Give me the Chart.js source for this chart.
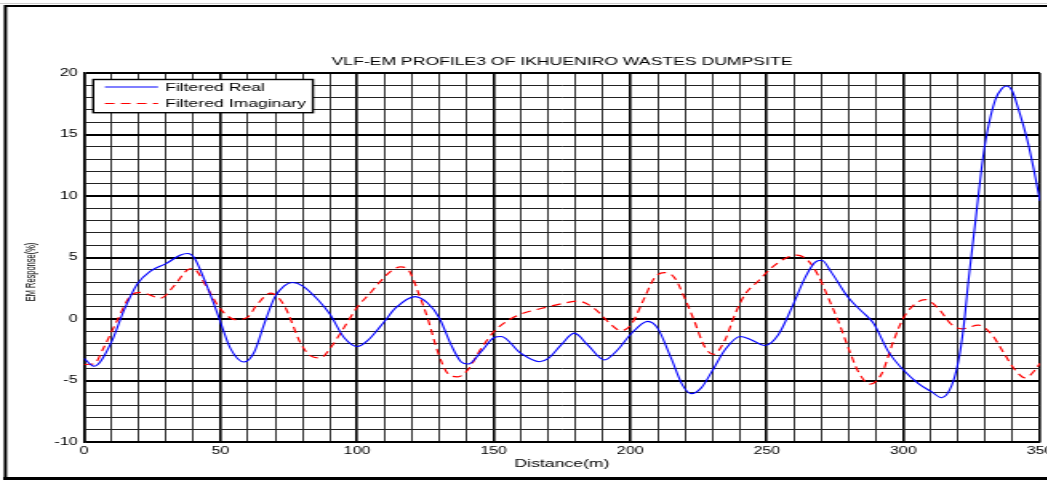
<!DOCTYPE html>
<html>
<head>
<meta charset="utf-8">
<title>VLF-EM Profile 3</title>
<script src="https://cdn.jsdelivr.net/npm/chart.js@4.4.1/dist/chart.umd.min.js"></script>
<style>
  html, body { margin: 0; padding: 0; background: #fff; overflow: hidden; }
  #wrap { position: relative; width: 1047px; height: 481px; overflow: hidden; background: #fff; }
  /* the figure is laid out narrow and widened horizontally, like the original export */
  #c { position: absolute; left: 0; top: 0; transform: scaleX(1.6); transform-origin: 0 0; }
</style>
</head>
<body>
<div id="wrap"><canvas id="c" width="680" height="481"></canvas></div>
<script>
// ---- profile data ----
const realDistance = [0, 3.7, 10, 14.6, 19.5, 24.4, 30, 35.4, 37.9, 40.3, 44, 47.6, 50, 53.7, 58.6, 62.3, 66, 69.8, 73.3, 76.3, 80, 85.5, 90, 95.2, 100.1, 103.8, 108.5, 110, 114.1, 121.2, 125.8, 130.1, 134.4, 138, 140.7, 145.4, 150.2, 152.7, 160, 166.7, 170, 174.7, 179.5, 184.4, 190.5, 195.4, 200, 206.4, 210, 215, 219.2, 222.3, 226, 229.8, 234.7, 240.2, 244.4, 249.3, 254.2, 259.1, 264, 267.6, 270.1, 273.7, 279.9, 284.7, 289, 294.5, 300, 305.5, 310.4, 314, 317.7, 320.1, 322, 323.8, 326.4, 328.7, 330.6, 333.6, 336.1, 337.7, 339.8, 342.2, 345.3, 347.7, 350];
const realResponse = [-3.2, -3.84, -1.9, 0.68, 2.84, 3.9, 4.5, 5.2, 5.32, 5.0, 3.24, 1.2, -0.27, -2.43, -3.5, -2.7, -0.4, 1.76, 2.7, 2.97, 2.7, 1.6, 0.4, -1.5, -2.24, -1.76, -0.6, -0.2, 0.9, 1.82, 1.3, 0.08, -2.1, -3.47, -3.66, -2.65, -1.5, -1.42, -2.8, -3.47, -3.2, -2.1, -1.15, -2.1, -3.33, -2.5, -1.28, -0.19, -0.74, -3.2, -5.4, -6.07, -5.6, -4.3, -2.5, -1.42, -1.7, -2.16, -1.28, 0.9, 3.36, 4.6, 4.78, 3.77, 1.72, 0.63, -0.33, -2.65, -4.15, -5.25, -5.93, -6.4, -5.4, -3.47, -0.74, 3.09, 8.0, 12.4, 15.1, 17.8, 18.75, 18.94, 18.56, 17.0, 14.6, 12.2, 9.6];

const imagDistance = [0, 3.7, 7.3, 12.2, 17.1, 20.8, 28, 33, 37.9, 39.5, 40.9, 45, 50, 55.6, 59.8, 63.5, 68.4, 73.3, 79.4, 83, 86.7, 90.4, 95.2, 100, 105, 108.7, 112.4, 116, 119.1, 122.2, 125.8, 129.5, 133.2, 136.8, 140.5, 145.4, 150.2, 155.1, 160, 167.3, 174.7, 180.8, 186.9, 193, 196.6, 200.3, 205.2, 208.9, 212.5, 216.2, 219.9, 223.5, 227.2, 230.4, 234.7, 238.3, 242, 246.9, 251.8, 256.7, 260.9, 265.2, 268.9, 272.5, 276.2, 279.9, 283.5, 287.8, 292.1, 296.3, 300, 304.3, 307.9, 312.8, 317.7, 321.4, 327.5, 332.4, 337.2, 340.9, 344.6, 348.2, 350];
const imagResponse = [-3.7, -3.65, -2.3, -0.1, 1.9, 2.16, 1.7, 2.7, 4.0, 4.1, 4.0, 2.57, 0.8, -0.05, 0.13, 1.2, 2.1, 1.1, -2.0, -3.0, -3.16, -2.3, -0.7, 0.95, 2.16, 3.1, 3.9, 4.23, 3.9, 2.27, 0.08, -2.65, -4.43, -4.7, -4.15, -2.4, -1.0, -0.14, 0.41, 0.85, 1.23, 1.45, 0.85, -0.46, -0.96, -0.46, 1.72, 3.36, 3.77, 3.36, 1.72, -0.19, -2.24, -2.87, -1.7, 0.36, 2.0, 3.09, 4.18, 4.92, 5.19, 4.73, 3.5, 1.72, -0.19, -2.38, -4.29, -5.3, -4.43, -1.83, 0.08, 1.23, 1.58, 0.85, -0.46, -0.8, -0.5, -1.28, -2.92, -4.15, -4.78, -4.15, -3.6];

const seriesNames = ['Filtered Real', 'Filtered Imaginary'];
const distanceLabels = [0, 50, 100, 150, 200, 250, 300, 350];
const responseLabels = [-10, -5, 0, 5, 10, 15, 20];
const chartTitle = 'VLF-EM PROFILE3 OF IKHUENIRO WASTES DUMPSITE';
const distanceTitle = 'Distance(m)';
const responseTitle = 'EM Response(%)';

const FONT = "'Liberation Sans', Arial, Helvetica, sans-serif";

function toPoints(xs, ys) { return xs.map((x, i) => ({ x: x, y: ys[i] })); }

// white page, outer figure frame
const figureFrame = {
  id: 'figureFrame',
  beforeDraw(chart) {
    const ctx = chart.ctx;
    ctx.save();
    ctx.fillStyle = '#fff';
    ctx.fillRect(0, 0, chart.width, chart.height);
    ctx.restore();
  },
  afterDraw(chart) {
    const ctx = chart.ctx;
    ctx.save();
    ctx.strokeStyle = '#ccc';
    ctx.lineWidth = 1;
    ctx.beginPath(); ctx.moveTo(0, 3.5); ctx.lineTo(chart.width, 3.5); ctx.stroke();
    ctx.strokeStyle = '#000';
    ctx.lineWidth = 2;
    ctx.beginPath();
    ctx.moveTo(3.4, 6); ctx.lineTo(676, 6); ctx.lineTo(676, 478.5); ctx.lineTo(3.4, 478.5); ctx.closePath();
    ctx.stroke();
    ctx.lineWidth = 3;
    ctx.beginPath(); ctx.moveTo(2, 478.5); ctx.lineTo(676, 478.5); ctx.stroke();
    ctx.restore();
  }
};

// heading centred over the plot, and the condensed vertical axis caption
const captions = {
  id: 'captions',
  afterDraw(chart) {
    const ctx = chart.ctx;
    const area = chart.chartArea;
    ctx.save();
    ctx.fillStyle = '#000';
    ctx.font = '11px ' + FONT;
    ctx.textAlign = 'center';
    ctx.textBaseline = 'middle';
    ctx.fillText(chartTitle, (area.left + area.right) / 2, 61.5);

    ctx.translate(19.6, 272);
    ctx.rotate(-Math.PI / 2);
    ctx.scale(0.88, 1.05);
    ctx.font = '8.5px ' + FONT;
    ctx.fillText(responseTitle, 0, 0);
    ctx.restore();
  }
};

// boxed legend in the upper-left corner of the plot
const boxedLegend = {
  id: 'boxedLegend',
  afterDatasetsDraw(chart) {
    const ctx = chart.ctx;
    const x0 = 58.3, y0 = 79.5, w = 137.3, h = 33.2;
    ctx.save();
    ctx.fillStyle = '#fff';
    ctx.fillRect(x0, y0, w, h);
    ctx.strokeStyle = '#000';
    ctx.lineWidth = 1.4;
    ctx.strokeRect(x0, y0, w, h);
    const rows = [87, 103.5];
    chart.data.datasets.forEach((ds, i) => {
      ctx.strokeStyle = ds.borderColor;
      ctx.lineWidth = 1.1;
      ctx.setLineDash(ds.borderDash || []);
      ctx.beginPath();
      ctx.moveTo(65.6, rows[i]);
      ctx.lineTo(98.8, rows[i]);
      ctx.stroke();
      ctx.setLineDash([]);
      ctx.fillStyle = '#000';
      ctx.font = '11px ' + FONT;
      ctx.textAlign = 'left';
      ctx.textBaseline = 'middle';
      ctx.fillText(ds.label, 103.2, rows[i] + 0.5);
    });
    ctx.restore();
  }
};

new Chart(document.getElementById('c'), {
  type: 'line',
  data: {
    datasets: [
      {
        label: seriesNames[0],
        data: toPoints(realDistance, realResponse),
        borderColor: '#0000ff',
        borderWidth: 1.1,
        pointRadius: 0,
        cubicInterpolationMode: 'monotone',
        fill: false
      },
      {
        label: seriesNames[1],
        data: toPoints(imagDistance, imagResponse),
        borderColor: '#ff0000',
        borderWidth: 1.2,
        borderDash: [6, 4],
        pointRadius: 0,
        cubicInterpolationMode: 'monotone',
        fill: false
      }
    ]
  },
  options: {
    responsive: false,
    animation: false,
    devicePixelRatio: 1,
    layout: { padding: { left: 0, right: 30, top: 73, bottom: 0 } },
    plugins: {
      legend: { display: false },
      tooltip: { enabled: false },
      title: { display: false }
    },
    scales: {
      x: {
        type: 'linear',
        min: 0,
        max: 350,
        afterFit(scale) { scale.height = 39; },
        ticks: {
          stepSize: 10,
          autoSkip: false,
          maxRotation: 0,
          padding: 3,
          color: '#000',
          font: { family: FONT, size: 10 },
          callback: (v) => distanceLabels.includes(v) ? String(v) : ''
        },
        grid: {
          drawTicks: false,
          color: (c) => (c.tick && c.tick.value % 50 === 0) ? '#000' : '#333',
          lineWidth: (c) => (c.tick && c.tick.value % 50 === 0) ? 1.6 : 1
        },
        border: { display: true, color: '#000', width: 1.5 },
        title: {
          display: true,
          text: distanceTitle,
          color: '#000',
          font: { family: FONT, size: 11 },
          padding: { top: 0, bottom: 10 }
        }
      },
      y: {
        type: 'linear',
        min: -10,
        max: 20,
        afterFit(scale) { scale.width = 52.5; },
        ticks: {
          stepSize: 1,
          autoSkip: false,
          padding: 4,
          color: '#000',
          font: { family: FONT, size: 10 },
          callback: (v) => responseLabels.includes(v) ? String(v) : ''
        },
        grid: {
          drawTicks: false,
          color: (c) => (c.tick && c.tick.value % 5 === 0) ? '#000' : '#222',
          lineWidth: (c) => (c.tick && c.tick.value % 5 === 0) ? 2 : 1
        },
        border: { display: true, color: '#000', width: 1.5 }
      }
    }
  },
  plugins: [figureFrame, boxedLegend, captions]
});
</script>
</body>
</html>
